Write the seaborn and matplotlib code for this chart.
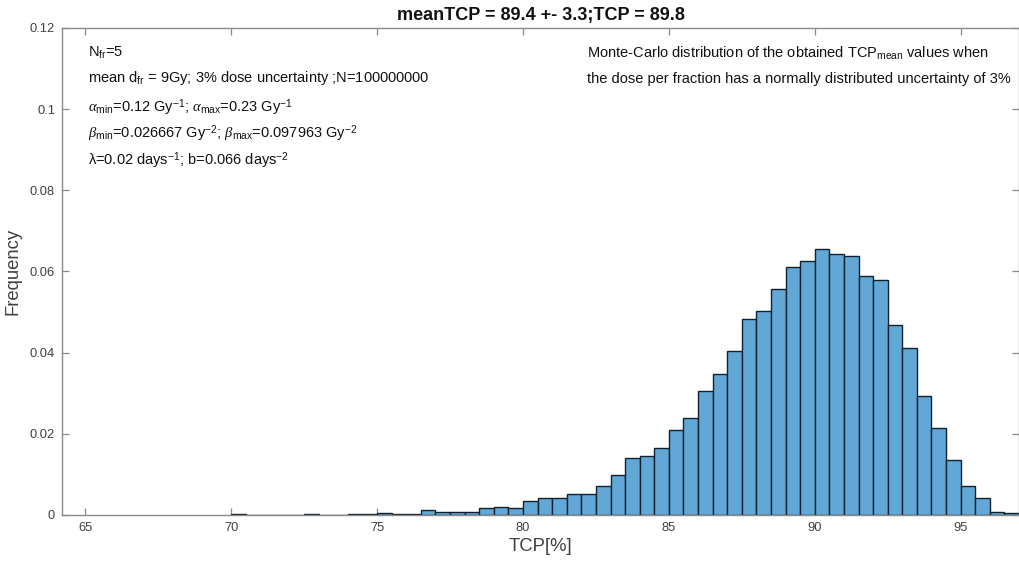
import numpy as np
import pandas as pd
import matplotlib
matplotlib.use("Agg")
import matplotlib.pyplot as plt
import seaborn as sns

# ---- data ----
bin_start = 70.0
bin_width = 0.5
frequency = [
    0.00025, 0.00005, 0.00003, 0.00008, 0.00005, 0.00015, 0.00008, 0.00010,
    0.00025, 0.00015, 0.0005, 0.0003, 0.0002, 0.0013, 0.0007, 0.0008,
    0.0007, 0.0016, 0.0020, 0.0016, 0.0035, 0.0042, 0.0041, 0.0052,
    0.0052, 0.0072, 0.0099, 0.0140, 0.0145, 0.0164, 0.0209, 0.0238,
    0.0305, 0.0348, 0.0403, 0.0484, 0.0503, 0.0558, 0.0610, 0.0625,
    0.0656, 0.0643, 0.0638, 0.0590, 0.0580, 0.0468, 0.0412, 0.0292,
    0.0214, 0.0136, 0.0072, 0.0042, 0.0008, 0.0005,
]
x_ticks = [65, 70, 75, 80, 85, 90, 95]
y_ticks = [0, 0.02, 0.04, 0.06, 0.08, 0.1, 0.12]
y_tick_labels = ["0", "0.02", "0.04", "0.06", "0.08", "0.1", "0.12"]
title = "meanTCP = 89.4 +- 3.3;TCP = 89.8"

n = len(frequency)
edges = [bin_start + bin_width * i for i in range(n + 1)]
centers = [(edges[i] + edges[i + 1]) / 2 for i in range(n)]
df = pd.DataFrame({"TCP": centers, "freq": frequency})

sns.set_theme(style="white")
plt.rcParams["font.family"] = ["Liberation Sans", "DejaVu Sans"]
plt.rcParams["mathtext.fontset"] = "custom"
plt.rcParams["mathtext.rm"] = "Liberation Sans"
plt.rcParams["mathtext.it"] = "Liberation Serif:italic"
plt.rcParams["mathtext.bf"] = "Liberation Sans:bold"

fig = plt.figure(figsize=(10.19, 5.63), dpi=100)
ax = fig.add_axes([0.0608, 0.0853, 0.9392, 0.8650])

sns.histplot(data=df, x="TCP", weights="freq", bins=edges, stat="count",
             color="#62a8d7", alpha=1.0, edgecolor="#10202e", linewidth=1.0,
             ax=ax)

ax.set_xlim(64.2, 97.0)
ax.set_ylim(0, 0.12)
ax.set_xticks(x_ticks)
ax.set_xticklabels([str(t) for t in x_ticks])
ax.set_yticks(y_ticks)
ax.set_yticklabels(y_tick_labels)

spine_col = "#8a8a8a"
for s in ax.spines.values():
    s.set_visible(True)
    s.set_color(spine_col)
    s.set_linewidth(1.0)
ax.tick_params(axis="both", which="both", direction="in", length=5, width=0.9,
               color=spine_col, labelcolor="#404040", labelsize=9.3,
               top=True, right=True, bottom=True, left=True, pad=5)

ax.set_xlabel("TCP[%]", fontsize=13.3, color="#404040", labelpad=3)
ax.set_ylabel("Frequency", fontsize=13.3, color="#404040", labelpad=6)
ax.set_title(title, fontsize=13, fontweight="bold", color="#111111", pad=6)

tkw = dict(transform=ax.transAxes, fontsize=10.5, color="#111111",
           ha="left", va="center")
x0 = (88 - 62) / (1019 - 62)
def yax(py):
    return (515 - py) / (515 - 28)
ax.text(x0, yax(53), r"N$_{\mathrm{fr}}$=5", **tkw)
ax.text(x0, yax(78), r"mean d$_{\mathrm{fr}}$ = 9Gy; 3% dose uncertainty ;N=100000000", **tkw)
ax.text(x0, yax(108), r"$\it{\alpha}_{\mathrm{min}}$=0.12 Gy$^{\mathrm{-1}}$; $\it{\alpha}_{\mathrm{max}}$=0.23 Gy$^{\mathrm{-1}}$", **tkw)
ax.text(x0, yax(134), r"$\it{\beta}_{\mathrm{min}}$=0.026667 Gy$^{\mathrm{-2}}$; $\it{\beta}_{\mathrm{max}}$=0.097963 Gy$^{\mathrm{-2}}$", **tkw)
ax.text(x0, yax(161), r"$\mathrm{\lambda}$=0.02 days$^{\mathrm{-1}}$; b=0.066 days$^{\mathrm{-2}}$", **tkw)

x1 = (587 - 62) / (1019 - 62)
ax.text(x1, yax(53), r"Monte-Carlo distribution of the obtained TCP$_{\mathrm{mean}}$ values when", **tkw)
ax.text(x1, yax(79), "the dose per fraction has a normally distributed uncertainty of 3%", **tkw)

fig.savefig("out.png", dpi=100)
